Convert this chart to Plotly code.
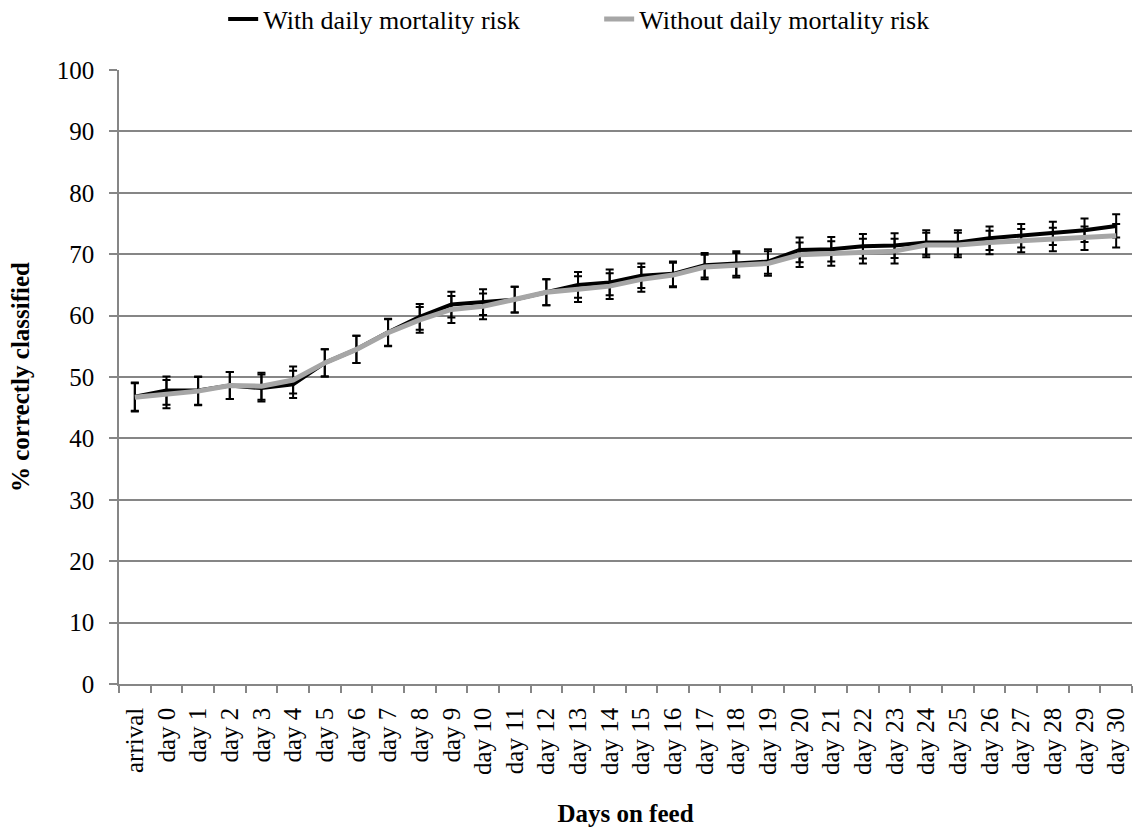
import plotly.graph_objects as go

categories = ["arrival"] + [f"day {d}" for d in range(31)]

with_mort = [46.8, 47.8, 47.8, 48.6, 48.2, 48.8, 52.3, 54.5, 57.3, 59.8, 61.8,
             62.2, 62.6, 63.8, 65.0, 65.4, 66.5, 66.8, 68.2, 68.5, 68.8, 70.7,
             70.8, 71.3, 71.4, 71.9, 71.9, 72.6, 73.0, 73.4, 73.9, 74.6]
with_err = [2.3, 2.3, 2.3, 2.2, 2.2, 2.2, 2.2, 2.2, 2.2, 2.1, 2.1,
            2.1, 2.1, 2.1, 2.1, 2.1, 2.0, 2.0, 2.0, 2.0, 2.0, 2.0,
            2.0, 2.0, 2.0, 2.0, 2.0, 1.9, 1.9, 1.9, 1.9, 1.9]

without_mort = [46.7, 47.2, 47.7, 48.6, 48.5, 49.5, 52.3, 54.5, 57.2, 59.3, 61.0,
                61.5, 62.6, 63.8, 64.3, 64.8, 65.9, 66.6, 67.9, 68.2, 68.5, 69.9,
                70.1, 70.5, 70.5, 71.5, 71.5, 71.9, 72.2, 72.4, 72.6, 73.0]
without_err = [2.3, 2.3, 2.3, 2.2, 2.2, 2.2, 2.2, 2.2, 2.2, 2.1, 2.2,
               2.1, 2.1, 2.1, 2.1, 2.1, 2.0, 2.0, 2.0, 2.0, 2.0, 2.0,
               2.0, 2.0, 2.0, 2.0, 2.0, 1.9, 1.9, 1.9, 1.9, 1.9]

font_family = "Liberation Serif"
axis_grey = "#868686"

fig = go.Figure()
fig.add_trace(go.Scatter(
    x=categories, y=with_mort, mode="lines", name="With daily mortality risk",
    line=dict(color="black", width=4),
    error_y=dict(type="data", array=with_err, visible=True,
                 color="black", thickness=2, width=4),
))
fig.add_trace(go.Scatter(
    x=categories, y=without_mort, mode="lines", name="Without daily mortality risk",
    line=dict(color="#A6A6A6", width=5),
    error_y=dict(type="data", array=without_err, visible=True,
                 color="black", thickness=2, width=4),
))

fig.update_layout(
    width=1133, height=831,
    margin=dict(l=119, r=1, t=70, b=147, autoexpand=False),
    plot_bgcolor="white", paper_bgcolor="white",
    font=dict(family=font_family, size=25, color="black"),
    legend=dict(orientation="h", xref="paper", x=0.474, xanchor="center",
                yref="paper", y=1.083, yanchor="middle",
                font=dict(size=26), tracegroupgap=0,
                entrywidth=331, entrywidthmode="pixels",
                bgcolor="rgba(0,0,0,0)"),
    showlegend=True,
)

fig.update_yaxes(
    range=[0, 100], dtick=10, showgrid=True, gridcolor=axis_grey, gridwidth=1.5,
    showline=True, linecolor=axis_grey, linewidth=1.5,
    ticks="outside", ticklen=8, tickcolor=axis_grey, tickwidth=1.5,
    ticklabelstandoff=10,
    tickfont=dict(size=25), zeroline=False,
    title=dict(text="<b>% correctly classified</b>", font=dict(size=25), standoff=20),
)
fig.update_xaxes(
    range=[-0.5, len(categories) - 0.5],
    showline=True, linecolor=axis_grey, linewidth=1.5,
    ticks="outside", ticklen=7, tickcolor=axis_grey, tickwidth=1.5,
    tickson="boundaries", ticklabelstandoff=12,
    tickangle=-90, tickfont=dict(size=25), showgrid=False,
    title=dict(text="<b>Days on feed</b>", font=dict(size=25), standoff=30),
)

fig.write_html("out.html")
